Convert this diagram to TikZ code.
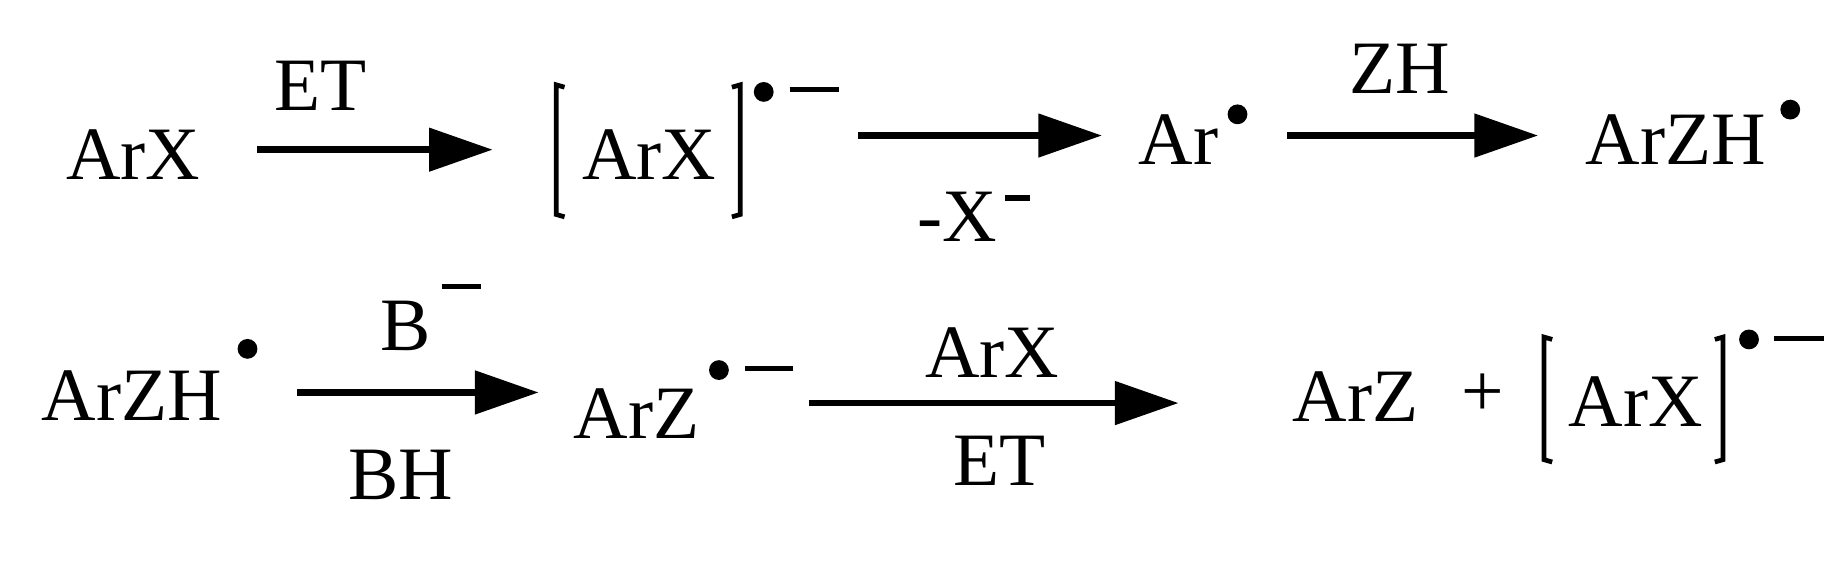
\documentclass[tikz,border=0pt]{standalone}
\usepackage{fontspec}
\setmainfont{Liberation Serif}
\usetikzlibrary{arrows.meta}
\begin{document}
\begin{tikzpicture}[x=0.5pt,y=-0.5pt,
  lbl/.style={inner sep=0pt,anchor=base,font=\fontsize{32}{38}\selectfont},
  rxn/.style={line width=2.8pt,-{Triangle[length=27pt,width=18pt]}},
  brk/.style={line width=2pt},
  minus/.style={line width=2.2pt}]
\useasboundingbox (0,0) rectangle (1568,496);
% row 1
\node[lbl] (a1) at (113,152) {ArX};
\coordinate (s1) at (218,127); \coordinate (e1) at (418,127);
\draw[rxn] (s1) -- (e1);
\node[lbl] (et1) at (272,94) {ET};
\node[lbl] (a2) at (551,152) {ArX};
\draw[brk] (479,74) -- (472,72) -- (472,182) -- (479,184);
\draw[brk] (621,74) -- (628,72) -- (628,182) -- (621,184);
\fill (648,78) circle[radius=4.2pt];
\draw[minus] (670,76) -- (712,76);
\coordinate (s2) at (728,115); \coordinate (e2) at (935,115);
\draw[rxn] (s2) -- (e2);
\node[lbl] (x1) at (812,205) {-X};
\draw[minus] (853,168) -- (874,168);
\node[lbl] (a3) at (1000,140) {Ar};
\fill (1050,97) circle[radius=4.2pt];
\coordinate (s3) at (1092,115); \coordinate (e3) at (1305,115);
\draw[rxn] (s3) -- (e3);
\node[lbl] (zh) at (1188,79) {ZH};
\node[lbl] (a4) at (1422,140) {ArZH};
\fill (1519,93) circle[radius=4.2pt];
% row 2
\node[lbl] (b1) at (112,357) {ArZH};
\fill (210,296) circle[radius=4.2pt];
\coordinate (s4) at (252,333); \coordinate (e4) at (457,333);
\draw[rxn] (s4) -- (e4);
\node[lbl] (bm) at (344,297) {B};
\draw[minus] (375,243) -- (408,243);
\node[lbl] (bh) at (340,424) {BH};
\node[lbl] (b2) at (540,372) {ArZ};
\fill (610,314) circle[radius=4.2pt];
\draw[minus] (632,313) -- (673,313);
\coordinate (s5) at (686,342); \coordinate (e5) at (1000,342);
\draw[rxn] (s5) -- (e5);
\node[lbl] (ax) at (842,320) {ArX};
\node[lbl] (et2) at (848,412) {ET};
\node[lbl] (b3) at (1150,358) {ArZ};
\node[lbl] (pl) at (1258,353) {+};
\node[lbl] (b4) at (1388,362) {ArX};
\draw[brk] (1317,288) -- (1310,286) -- (1310,390) -- (1317,392);
\draw[brk] (1455,288) -- (1462,286) -- (1462,390) -- (1455,392);
\fill (1484,288) circle[radius=4.2pt];
\draw[minus] (1505,287) -- (1548,287);
\end{tikzpicture}
\end{document}
